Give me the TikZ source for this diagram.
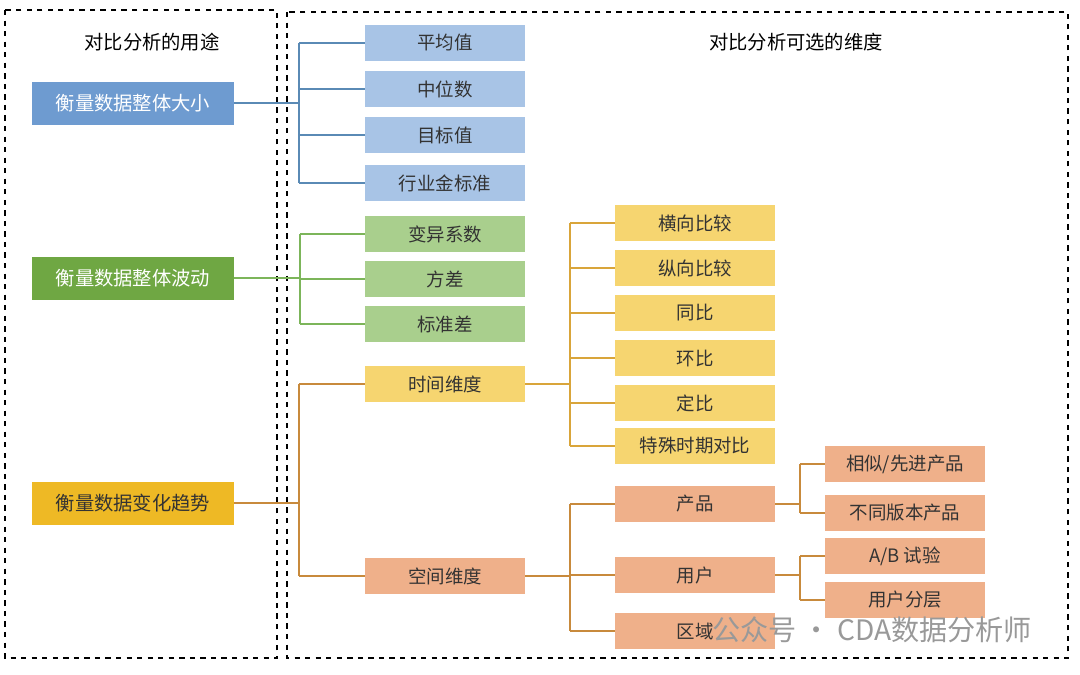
\documentclass[tikz,border=0pt]{standalone}
\usepackage{fontspec}
\setmainfont{Noto Sans CJK SC}
\begin{document}
\begin{tikzpicture}[x=0.02cm,y=-0.02cm,
 box/.style={minimum width=3.2cm,minimum height=0.72cm,inner sep=0pt,font=\fontsize{10.5pt}{12pt}\selectfont,text=black!80},
 big/.style={minimum width=4.04cm,minimum height=0.86cm,inner sep=0pt,font=\fontsize{11pt}{13pt}\selectfont},
 ln/.style={line width=0.7pt}]
\definecolor{bD}{HTML}{6E9BD0}\definecolor{bL}{HTML}{A8C4E6}\definecolor{bC}{HTML}{5A8AB5}
\definecolor{gD}{HTML}{6FA743}\definecolor{gL}{HTML}{A9CF8D}\definecolor{gC}{HTML}{7CB55A}
\definecolor{yD}{HTML}{EEB925}\definecolor{yL}{HTML}{F6D570}\definecolor{oL}{HTML}{EFB08A}\definecolor{yC}{HTML}{D9A53A}\definecolor{oC}{HTML}{C88A3C}
\useasboundingbox (0,0) rectangle (1080,674);
\fill[white] (0,0) rectangle (1080,674);
\draw[dashed,line width=0.7pt] (5,10) rectangle (277,658);
\draw[dashed,line width=0.7pt] (287,12) rectangle (1068,658);
\node[font=\fontsize{11pt}{13pt}\selectfont] (t1) at (152,42) {对比分析的用途};
\node[font=\fontsize{11pt}{13pt}\selectfont] (t2) at (796,42) {对比分析可选的维度};
\node[big,fill=bD,text=white] (L1) at (133,103) {衡量数据整体大小};
\node[big,fill=gD,text=white] (L2) at (133,278) {衡量数据整体波动};
\node[big,fill=yD,text=black!80] (L3) at (133,503) {衡量数据变化趋势};
\node[box,fill=bL] (a1) at (445,43) {平均值};
\node[box,fill=bL] (a2) at (445,89) {中位数};
\node[box,fill=bL] (a3) at (445,135) {目标值};
\node[box,fill=bL] (a4) at (445,183) {行业金标准};
\node[box,fill=gL] (b1) at (445,234) {变异系数};
\node[box,fill=gL] (b2) at (445,279) {方差};
\node[box,fill=gL] (b3) at (445,324) {标准差};
\node[box,fill=yL] (c1) at (445,384) {时间维度};
\node[box,fill=oL] (c2) at (445,576) {空间维度};
\node[box,fill=yL] (d1) at (695,223) {横向比较};
\node[box,fill=yL] (d2) at (695,268) {纵向比较};
\node[box,fill=yL] (d3) at (695,313) {同比};
\node[box,fill=yL] (d4) at (695,358) {环比};
\node[box,fill=yL] (d5) at (695,403) {定比};
\node[box,fill=yL] (d6) at (695,446) {特殊时期对比};
\node[box,fill=oL] (e1) at (695,504) {产品};
\node[box,fill=oL] (e2) at (695,575) {用户};
\node[box,fill=oL] (e3) at (695,631) {区域};
\node[box,fill=oL] (f1) at (905,464) {相似/先进产品};
\node[box,fill=oL] (f2) at (905,513) {不同版本产品};
\node[box,fill=oL] (f3) at (905,556) {A/B 试验};
\node[box,fill=oL] (f4) at (905,600) {用户分层};
\draw[ln,bC] (L1.east) -- (299,103);
\foreach \n in {a1,a2,a3,a4} \draw[ln,bC] (\n.west) -- (\n.west -| 299,0);
\draw[ln,bC] (a1.west -| 299,0) -- (a4.west -| 299,0);
\draw[ln,gC] (L2.east) -- (300,278);
\foreach \n in {b1,b2,b3} \draw[ln,gC] (\n.west) -- (\n.west -| 300,0);
\draw[ln,gC] (b1.west -| 300,0) -- (b3.west -| 300,0);
\draw[ln,oC] (L3.east) -- (299,503);
\foreach \n in {c1,c2} \draw[ln,oC] (\n.west) -- (\n.west -| 299,0);
\draw[ln,oC] (c1.west -| 299,0) -- (c2.west -| 299,0);
\draw[ln,yC] (c1.east) -- (570,384);
\foreach \n in {d1,d2,d3,d4,d5,d6} \draw[ln,yC] (\n.west) -- (\n.west -| 570,0);
\draw[ln,yC] (d1.west -| 570,0) -- (d6.west -| 570,0);
\draw[ln,oC] (c2.east) -- (570,576);
\foreach \n in {e1,e2,e3} \draw[ln,oC] (\n.west) -- (\n.west -| 570,0);
\draw[ln,oC] (e1.west -| 570,0) -- (e3.west -| 570,0);
\draw[ln,oC] (e1.east) -- (800,504);
\foreach \n in {f1,f2} \draw[ln,oC] (\n.west) -- (\n.west -| 800,0);
\draw[ln,oC] (f1.west -| 800,0) -- (f2.west -| 800,0);
\draw[ln,oC] (e2.east) -- (800,575);
\foreach \n in {f3,f4} \draw[ln,oC] (\n.west) -- (\n.west -| 800,0);
\draw[ln,oC] (f3.west -| 800,0) -- (f4.west -| 800,0);
\node[text=black!40,font=\fontsize{16pt}{18pt}\selectfont,anchor=west,inner sep=0pt] (wm) at (712,630) {公众号 · CDA数据分析师};
\end{tikzpicture}
\end{document}
